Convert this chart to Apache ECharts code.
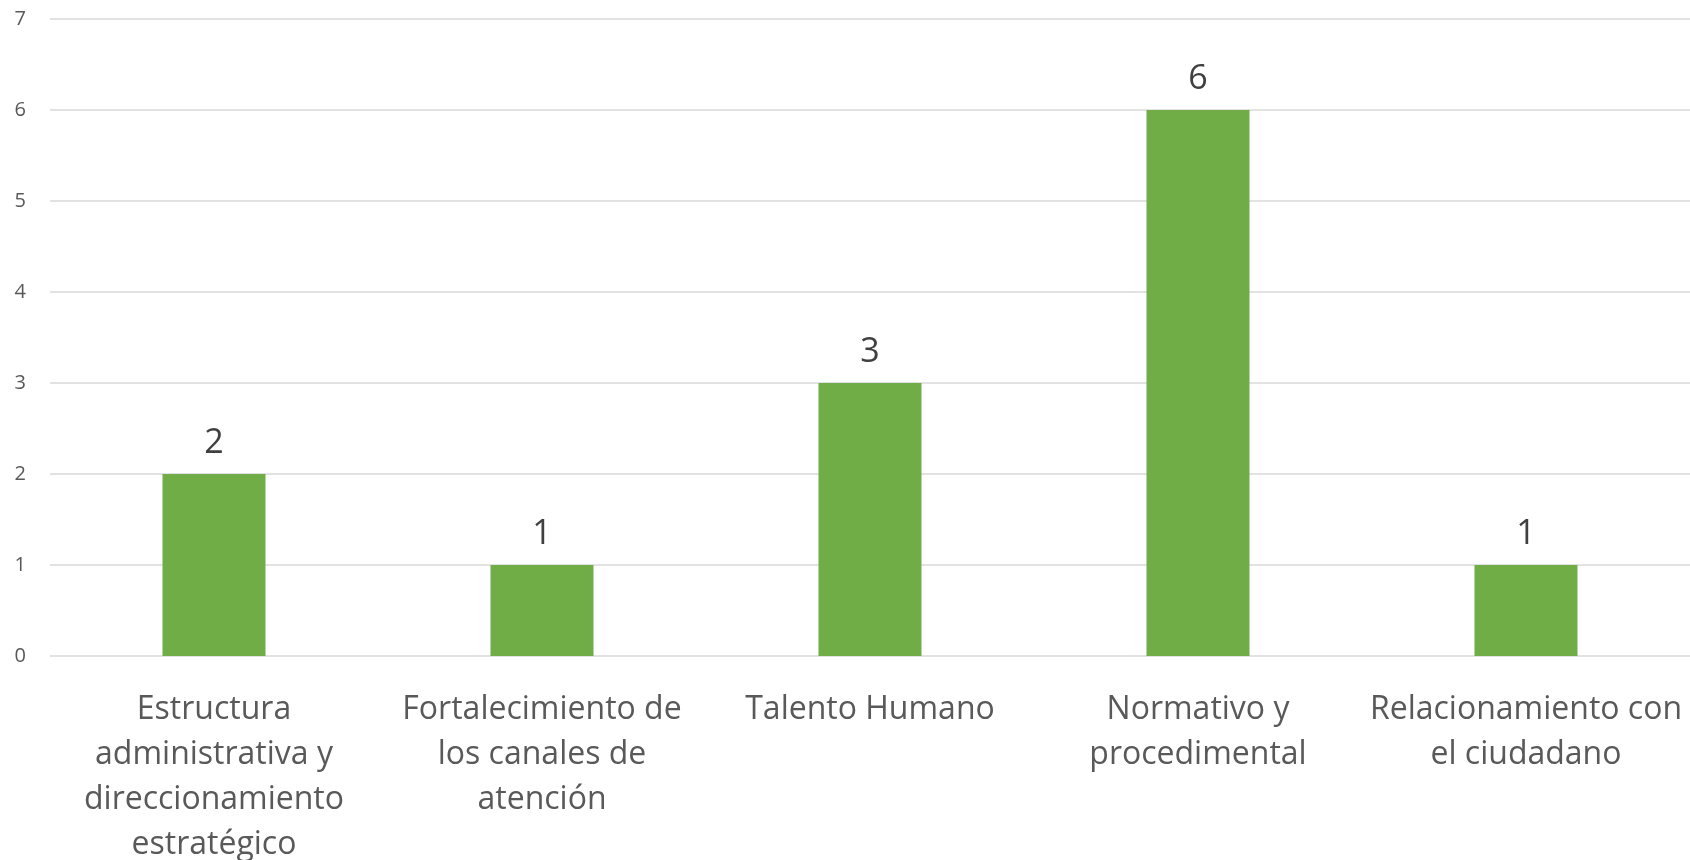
<!DOCTYPE html>
<html>
<head>
<meta charset="utf-8">
<script src="https://cdn.jsdelivr.net/npm/echarts@6/dist/echarts.min.js"></script>
<style>
  html, body { margin: 0; padding: 0; background: #ffffff; }
  #chart { width: 1690px; height: 860px; }
</style>
</head>
<body>
<div id="chart"></div>
<script>
// Categories (line breaks as they appear under each bar)
const categories = [
  'Estructura\nadministrativa y\ndireccionamiento\nestratégico',
  'Fortalecimiento de\nlos canales de\natención',
  'Talento Humano',
  'Normativo y\nprocedimental',
  'Relacionamiento con\nel ciudadano'
];
// Count per category
const values = [2, 1, 3, 6, 1];
// Value axis range
const yMin = 0;
const yMax = 7;
const yStep = 1;

const FONT = '"Open Sans", "Noto Sans", sans-serif';

const chart = echarts.init(document.getElementById('chart'), null, { renderer: 'canvas' });
chart.setOption({
  animation: false,
  backgroundColor: '#ffffff',
  grid: {
    left: 50, right: 0, top: 19, bottom: 204,
    containLabel: false,
    outerBoundsMode: 'none'
  },
  xAxis: {
    type: 'category',
    data: categories,
    axisLine: { show: false },
    axisTick: { show: false },
    axisLabel: {
      interval: 0,
      margin: 31,
      color: '#595959',
      fontFamily: FONT,
      fontSize: 32,
      lineHeight: 45,
      align: 'center'
    }
  },
  yAxis: {
    type: 'value',
    min: yMin,
    max: yMax,
    interval: yStep,
    axisLine: { show: false },
    axisTick: { show: false },
    splitLine: { lineStyle: { color: '#d9d9d9', width: 1.5 } },
    axisLabel: {
      margin: 24,
      color: '#595959',
      fontFamily: FONT,
      fontSize: 20
    }
  },
  series: [{
    type: 'bar',
    data: values,
    barWidth: '31.4%',
    itemStyle: { color: '#70ad47' },
    label: {
      show: true,
      position: 'top',
      distance: 14,
      color: '#404040',
      fontFamily: FONT,
      fontSize: 34
    }
  }]
});
</script>
</body>
</html>
